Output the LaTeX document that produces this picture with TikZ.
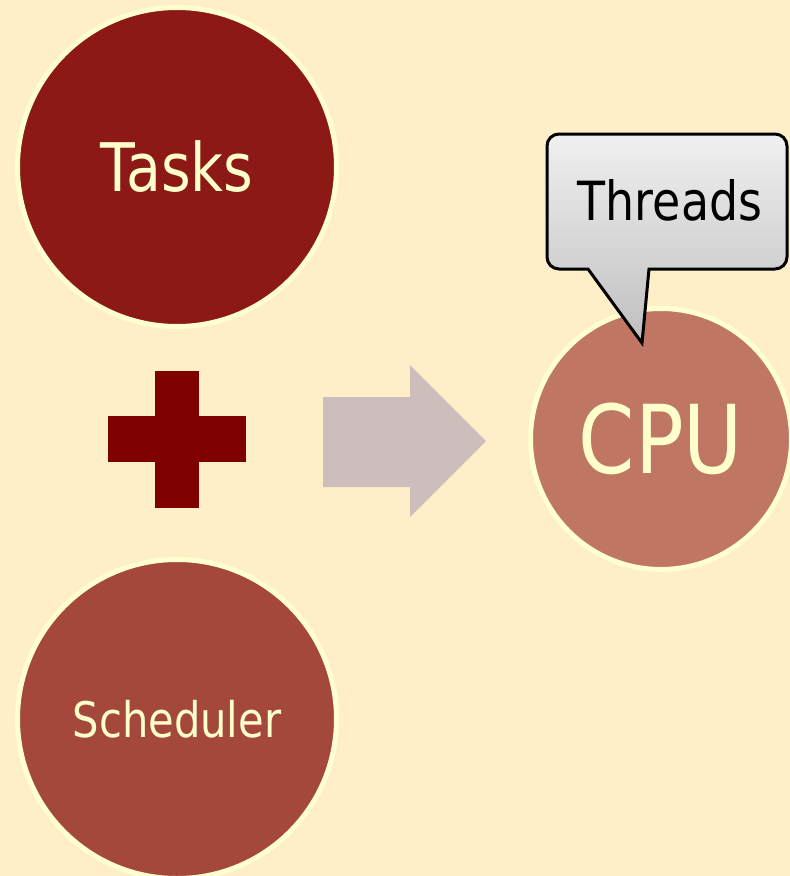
\documentclass[tikz,border=0pt]{standalone}
\usepackage{fontspec}
\newfontfamily\labelfont[FakeStretch=0.85]{DejaVu Sans}
\usepackage{tikz}
\definecolor{paper}{RGB}{255,239,200}
\definecolor{rim}{RGB}{255,255,208}
\definecolor{ink}{RGB}{255,255,204}
\definecolor{taskred}{RGB}{140,25,21}
\definecolor{schedred}{RGB}{165,72,60}
\definecolor{cpurose}{RGB}{191,119,100}
\definecolor{plusred}{RGB}{127,0,0}
\definecolor{arrowgray}{RGB}{205,189,189}

\begin{document}
\begin{tikzpicture}[x=1pt,y=-1pt,
    blob/.style={circle,draw=rim,line width=5pt,text=ink,inner sep=0pt},
    callout/.style={draw=black,line width=3pt,top color=gray!12,bottom color=gray!50}]
  \fill[paper](0,0) rectangle (790,876);
  \useasboundingbox (0,0) rectangle (790,876);
  % the two inputs
  \node[blob,fill=taskred,minimum size=319pt,font=\labelfont\fontsize{67}{67}\selectfont] (tasks) at (177,167){Tasks};
  \node[blob,fill=schedred,minimum size=319pt,font=\labelfont\fontsize{49}{49}\selectfont] (sched) at (177,719){Scheduler};
  \fill[plusred](155,371) rectangle (199,508);
  \fill[plusred](108,416) rectangle (246,462);
  % block arrow
  \fill[arrowgray](323,397)--(410,397)--(410,365)--(486,441)--(410,517)--(410,487)--(323,487)--cycle;
  % result
  \node[blob,fill=cpurose,minimum size=261pt,font=\labelfont\fontsize{95}{95}\selectfont] (cpu) at (661,439){CPU};
  \coordinate (tip) at (642,343);
  \draw[callout](700,134)[rounded corners=12pt]--(787,134)--(787,269)[sharp corners]--(649,269)--(tip)--(588,269)[rounded corners=12pt]--(547,269)--(547,134)--cycle;
  \node[font=\labelfont\fontsize{54}{54}\selectfont] (threads) at (670,200){Threads};
\end{tikzpicture}
\end{document}
